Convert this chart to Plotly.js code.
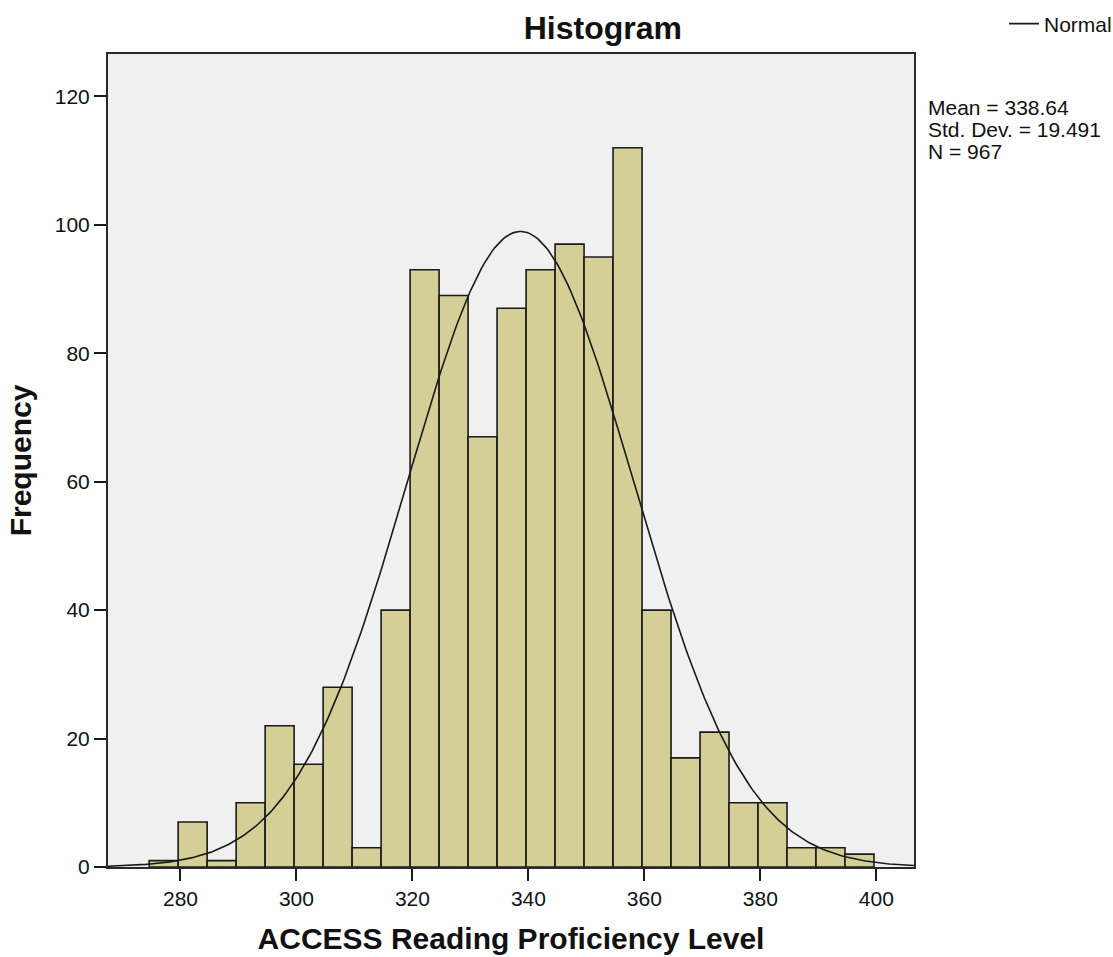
<!DOCTYPE html>
<html>
<head>
<meta charset="utf-8">
<script src="https://cdn.plot.ly/plotly-3.0.1.min.js"></script>
<style>
  html, body { margin: 0; padding: 0; background: #ffffff; }
  #chart { width: 1113px; height: 957px; }
</style>
</head>
<body>
<div id="chart"></div>
<script>
// Histogram bins (centres of 5-unit bins) and frequencies
const binCenters = [277.1, 282.1, 287.1, 292.1, 297.1, 302.1, 307.1, 312.1, 317.1, 322.1,
                    327.1, 332.1, 337.1, 342.1, 347.1, 352.1, 357.1, 362.1, 367.1, 372.1,
                    377.1, 382.1, 387.1, 392.1, 397.1];
const frequencies = [1, 7, 1, 10, 22, 16, 28, 3, 40, 93,
                     89, 67, 87, 93, 97, 95, 112, 40, 17, 21,
                     10, 10, 3, 3, 2];
const binWidth = 5;

// Summary statistics shown on the chart
const statMean = 338.64;
const statSD = 19.491;
const statN = 967;

const xTicks = [280, 300, 320, 340, 360, 380, 400];
const yTicks = [0, 20, 40, 60, 80, 100, 120];
const xRange = [267.5, 406.5];
const yRange = [0, 126.6];

// Fitted normal curve from the stated mean / SD / N
const curveX = [];
const curveY = [];
const steps = 300;
for (let i = 0; i <= steps; i++) {
  const x = xRange[0] + (xRange[1] - xRange[0]) * i / steps;
  const z = (x - statMean) / statSD;
  curveX.push(x);
  curveY.push(statN * binWidth / (statSD * Math.sqrt(2 * Math.PI)) * Math.exp(-0.5 * z * z));
}

const FONT = '"Liberation Sans", Arial, Helvetica, sans-serif';

const traces = [
  {
    type: 'bar',
    x: binCenters,
    y: frequencies,
    width: binWidth,
    marker: { color: '#D3CF97', line: { color: '#1a1a1a', width: 1.6 } },
    showlegend: false,
    hoverinfo: 'x+y'
  },
  {
    type: 'scatter',
    mode: 'lines',
    x: curveX,
    y: curveY,
    name: 'Normal',
    line: { color: '#1a1a1a', width: 1.6 },
    showlegend: true
  }
];

const statsLines = [
  'Mean = ' + statMean.toFixed(2),
  'Std. Dev. = ' + statSD.toFixed(3),
  'N = ' + statN
];
const statsY = [0.9337, 0.9066, 0.8795];

const annotations = statsLines.map((t, i) => ({
  text: t,
  xref: 'paper', yref: 'paper',
  x: 1.0149, y: statsY[i],
  xanchor: 'left', yanchor: 'middle',
  showarrow: false,
  align: 'left',
  font: { family: FONT, size: 21, color: '#111' }
}));

const layout = {
  width: 1113,
  height: 957,
  margin: { l: 108, r: 199, t: 54, b: 90, autoexpand: false },
  paper_bgcolor: '#ffffff',
  plot_bgcolor: '#F0F0F0',
  font: { family: FONT, size: 21, color: '#111' },
  title: {
    text: '<b>Histogram</b>',
    font: { family: FONT, size: 32, color: '#111' },
    xref: 'paper', x: 0.614, xanchor: 'center',
    yref: 'container', y: 0.9707, yanchor: 'middle'
  },
  bargap: 0,
  xaxis: {
    range: xRange,
    tickvals: xTicks,
    ticktext: xTicks.map(String),
    ticks: 'outside',
    ticklen: 12,
    tickwidth: 2,
    tickcolor: '#1a1a1a',
    showgrid: false,
    zeroline: false,
    showline: true,
    linecolor: '#2a2a2a',
    linewidth: 2,
    mirror: true,
    tickfont: { family: FONT, size: 21, color: '#111' },
    title: {
      text: '<b>ACCESS Reading Proficiency Level</b>',
      font: { family: FONT, size: 30, color: '#111' },
      standoff: 19
    }
  },
  yaxis: {
    range: yRange,
    tickvals: yTicks,
    ticktext: yTicks.map(String),
    ticks: 'outside',
    ticklen: 12,
    tickwidth: 2,
    tickcolor: '#1a1a1a',
    showgrid: false,
    zeroline: false,
    showline: true,
    linecolor: '#2a2a2a',
    linewidth: 2,
    mirror: true,
    tickfont: { family: FONT, size: 21, color: '#111' },
    title: {
      text: '<b>Frequency</b>',
      font: { family: FONT, size: 30, color: '#111' },
      standoff: 14
    }
  },
  legend: {
    x: 1.1117, xanchor: 'left',
    y: 1.0369, yanchor: 'middle',
    bgcolor: 'rgba(0,0,0,0)',
    borderwidth: 0,
    font: { family: FONT, size: 21, color: '#111' }
  },
  annotations: annotations
};

Plotly.newPlot('chart', traces, layout, { displayModeBar: false, staticPlot: true });
</script>
</body>
</html>
